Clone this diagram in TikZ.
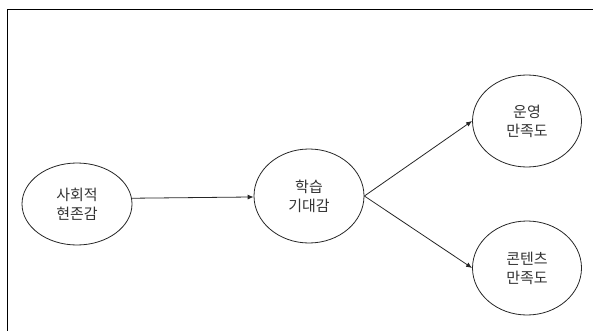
\documentclass[tikz,border=0pt]{standalone}
\usepackage{fontspec}
\newfontfamily\kr{Noto Sans CJK KR}
\usetikzlibrary{arrows.meta,shapes.geometric}
\begin{document}
\begin{tikzpicture}[x=1pt,y=-1pt,
  var/.style={draw=black!85, line width=0.8pt, ellipse, inner sep=0pt,
    font=\kr\fontsize{15}{19}\selectfont, align=center, text=black!80},
  link/.style={draw=black!85, line width=0.8pt, -{Latex[length=6pt,width=5pt]}}]
\useasboundingbox (0,0) rectangle (593,331);
\draw[black, line width=1.4pt] (7.5,331) -- (7.5,9.5) -- (593,9.5);
\node[var, minimum width=110pt, minimum height=82pt] (a) at (77,204) {사회적\\현존감};
\node[var, minimum width=110pt, minimum height=94pt] (b) at (309,196) {학습\\기대감};
\node[var, minimum width=109pt, minimum height=92pt] (c) at (527,121) {운영\\만족도};
\node[var, minimum width=109pt, minimum height=94pt] (d) at (527,268) {콘텐츠\\만족도};
\draw[link] (a.6) -- (b.181);
\draw[link] (b.east) -- (c.west);
\draw[link] (b.east) -- (d.west);
\end{tikzpicture}
\end{document}
